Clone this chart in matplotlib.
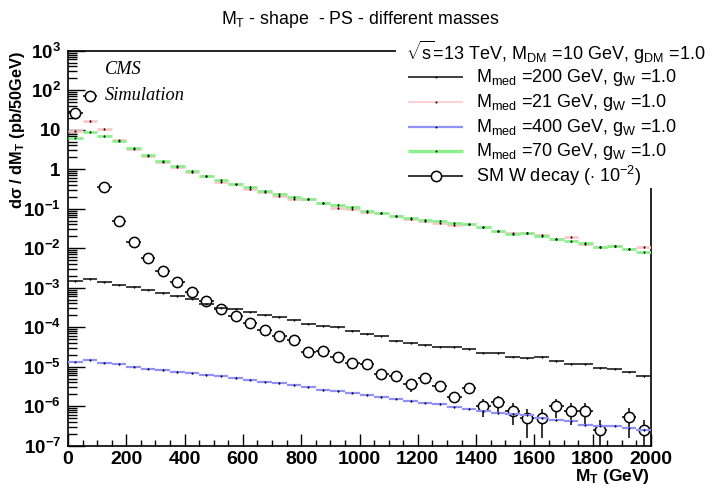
import numpy as np
import matplotlib
matplotlib.use("Agg")
import matplotlib.pyplot as plt
from matplotlib.patches import Rectangle
from matplotlib.ticker import FixedLocator, FixedFormatter, NullFormatter

plt.rcParams['font.family'] = ['Liberation Sans', 'DejaVu Sans']
plt.rcParams['mathtext.fontset'] = 'custom'
plt.rcParams['mathtext.rm'] = 'Liberation Sans'
plt.rcParams['mathtext.it'] = 'Liberation Sans:italic'
plt.rcParams['mathtext.bf'] = 'Liberation Sans:bold'

# ---- binning: 50 GeV bins from 0 to 2000 GeV ----
bin_width = 50
bin_edges = np.arange(0, 2000 + bin_width, bin_width)

# ---- dsigma/dMT (pb/50GeV) for each mediator mass ----
med200 = [1.45e-3, 1.66e-3, 1.39e-3, 1.19e-3, 1.02e-3, 8.9e-4, 7.2e-4, 6.05e-4, 5.2e-4, 3.9e-4,
          3.1e-4, 2.9e-4, 2.47e-4, 2.04e-4, 1.78e-4, 1.52e-4, 1.23e-4, 1.07e-4, 9.9e-5, 8.1e-5,
          6.8e-5, 5.9e-5, 4.5e-5, 3.9e-5, 3.5e-5, 3.2e-5, 3.1e-5, 2.8e-5, 2.26e-5, 2.18e-5,
          1.79e-5, 1.66e-5, 1.73e-5, 1.39e-5, 1.17e-5, 1.15e-5, 9.3e-6, 8.9e-6, 7.5e-6, 5.8e-6]
med21 = [9.5, 16.6, 10.5, 5.4, 3.3, 2.2, 1.55, 1.11, 0.83, 0.66,
         0.48, 0.41, 0.31, 0.26, 0.21, 0.176, 0.172, 0.14, 0.104, 0.098,
         0.081, 0.079, 0.0665, 0.055, 0.048, 0.043, 0.039, 0.040, 0.034, 0.0267,
         0.0238, 0.0243, 0.0216, 0.0171, 0.0196, 0.0125, 0.0107, 0.0114, 0.0097, 0.0107]
med400 = [1.34e-5, 1.48e-5, 1.26e-5, 1.15e-5, 1.0e-5, 8.9e-6, 8.2e-6, 7.3e-6, 6.8e-6, 6.2e-6,
          5.8e-6, 5.2e-6, 4.7e-6, 4.2e-6, 3.9e-6, 3.4e-6, 3.0e-6, 2.6e-6, 2.4e-6, 2.2e-6,
          1.92e-6, 1.71e-6, 1.55e-6, 1.36e-6, 1.23e-6, 1.14e-6, 9.4e-7, 8.6e-7, 7.7e-7, 6.7e-7,
          6.3e-7, 5.9e-7, 4.9e-7, 4.5e-7, 4.1e-7, 3.3e-7, 3.2e-7, 3.2e-7, 2.75e-7, 2.5e-7]
med70 = [6.3, 9.0, 6.9, 5.3, 3.37, 2.24, 1.58, 1.2, 0.92, 0.67,
         0.53, 0.41, 0.36, 0.28, 0.23, 0.194, 0.172, 0.142, 0.126, 0.108,
         0.0875, 0.079, 0.0665, 0.058, 0.052, 0.05, 0.043, 0.040, 0.034, 0.0278,
         0.0229, 0.0243, 0.0204, 0.0171, 0.0149, 0.0135, 0.0107, 0.0114, 0.0097, 0.0079]
signal_rel_err = {"200": 0.03, "21": 0.04, "400": 0.04, "70": 0.04}

# ---- SM W -> l nu background (pb/50GeV), drawn scaled by 10^-2 ----
sm_scale = 1e-2
sm_w = [2650, 7100, 36, 4.8, 1.41, 0.555, 0.269, 0.139, 0.079, 0.047,
        0.0294, 0.0189, 0.0126, 0.0087, 0.0059, 0.0048, 0.00231, 0.00254, 0.00179, 0.00126,
        0.00119, 0.00066, 0.00059, 0.000358, 0.000527, 0.00033, 0.000174, 0.000284, 0.000103, 0.000128,
        7.7e-5, 5.0e-5, 5.0e-5, 1.03e-4, 7.7e-5, 7.7e-5, 2.54e-5, 0.0, 5.2e-5, 2.54e-5]
sm_rel_err = [0.01, 0.01, 0.03, 0.05, 0.06, 0.08, 0.1, 0.1, 0.12, 0.12,
              0.14, 0.15, 0.15, 0.16, 0.18, 0.18, 0.2, 0.2, 0.22, 0.22,
              0.24, 0.3, 0.3, 0.35, 0.3, 0.3, 0.32, 0.28, 0.47, 0.43,
              0.57, 0.69, 0.69, 0.5, 0.57, 0.57, 0.8, 0.0, 0.69, 0.8]

x_ticks = [0, 200, 400, 600, 800, 1000, 1200, 1400, 1600, 1800, 2000]
y_decades = list(range(-7, 4))

W, H = 720, 494
fig = plt.figure(figsize=(W / 100, H / 100), dpi=100)
fig.patch.set_facecolor('white')


def fx(px):
    return px / W


def fy(py):
    return 1 - py / H


ax_l, ax_r, ax_t, ax_b = 68, 651, 50.7, 445.7
ax = fig.add_axes([fx(ax_l), fy(ax_b), fx(ax_r - ax_l), (ax_b - ax_t) / H])
ax.set_yscale('log')
ax.set_xlim(0, 2000)
ax.set_ylim(1e-7, 1e3)

centers = 0.5 * (bin_edges[:-1] + bin_edges[1:])
half = bin_width / 2

# SM W decay: open circles with error bars
sm_vals = np.array(sm_w) * sm_scale
sm_err = sm_vals * np.array(sm_rel_err)
ok = sm_vals > 0
ax.errorbar(centers[ok], sm_vals[ok], xerr=half, yerr=sm_err[ok], fmt='o', ms=7.4,
            mfc='white', mec='black', mew=1.1, ecolor='black', elinewidth=1.1,
            capsize=0, zorder=2)

# signal histograms: coloured bin-wide segments, black stat. error ticks
series = [
    (med200, "200", '#1e1e1e', 1.2),
    (med21, "21", '#ffc8c8', 2.0),
    (med400, "400", '#9090ff', 1.6),
    (med70, "70", '#8cf08c', 2.0),
]
for vals, key, color, lw in series:
    v = np.array(vals)
    ax.errorbar(centers, v, xerr=half, fmt='none', ecolor=color, elinewidth=lw,
                capsize=0, zorder=3)
    ax.errorbar(centers, v, yerr=v * signal_rel_err[key], fmt='none', ecolor='#202020',
                elinewidth=0.6, capsize=0, zorder=4)
    ax.plot(centers, v, ls='none', marker='s', ms=0.9, mfc='black', mec='black',
            mew=0.3, zorder=4)

# axes style
for side in ['left', 'bottom', 'right', 'top']:
    ax.spines[side].set_linewidth(1.2)
    ax.spines[side].set_color('black')

ax.xaxis.set_major_locator(FixedLocator(x_ticks))
ax.xaxis.set_minor_locator(FixedLocator(bin_edges))
ax.set_xticklabels([str(t) for t in x_ticks])
ax.tick_params(axis='x', which='major', direction='in', length=8.5, width=1.0,
               pad=4, labelsize=14, top=False)
ax.tick_params(axis='x', which='minor', direction='in', length=4.2, width=1.0, top=False)

ax.yaxis.set_major_locator(FixedLocator([10.0 ** d for d in y_decades]))
minor_y = [m * 10.0 ** d for d in y_decades[:-1] for m in range(2, 10)]
ax.yaxis.set_minor_locator(FixedLocator(minor_y))
ax.yaxis.set_minor_formatter(NullFormatter())


def ylab(d):
    if d == 0:
        return r'$\mathbf{1}$'
    if d == 1:
        return r'$\mathbf{10}$'
    return r'$\mathbf{10^{%d}}$' % d


ax.yaxis.set_major_formatter(FixedFormatter([ylab(d) for d in y_decades]))
ax.tick_params(axis='y', which='major', direction='in', length=12.5, width=1.0,
               pad=5, labelsize=13.5, right=False)
ax.tick_params(axis='y', which='minor', direction='in', length=6.3, width=1.0, right=False)
for lab in ax.get_xticklabels():
    lab.set_fontweight('bold')

# axis titles
fig.text(fx(650), fy(476), r'M$_{\mathbf{T}}$ (GeV)', ha='right', va='center',
         fontsize=12.5, fontweight='bold')
fig.text(fx(18), fy(51), r'd$\mathbf{\sigma}$ / dM$_{\mathbf{T}}$ (pb/50GeV)', rotation=90,
         ha='center', va='top', fontsize=11.8, fontweight='bold')

# title
fig.text(0.5, fy(20), r'M$_{\mathrm{T}}$ - shape  - PS - different masses', ha='center',
         va='center', fontsize=12.8)

# CMS label
fig.text(fx(105), fy(70), 'CMS', fontsize=13.2, style='italic', family='Liberation Serif',
         ha='left', va='center')
fig.text(fx(105), fy(95), 'Simulation', fontsize=13.2, style='italic',
         family='Liberation Serif', ha='left', va='center')

# legend panel drawn over the frame corner
ov = fig.add_axes([0, 0, 1, 1], zorder=10)
ov.set_xlim(0, W)
ov.set_ylim(H, 0)
ov.axis('off')
ov.add_patch(Rectangle((396, 40), 330, 148.5, facecolor='white', edgecolor='none'))

ov.text(406, 52, r'$\sqrt{\mathrm{s}}$=13 TeV, M$_{\mathrm{DM}}$ =10 GeV, g$_{\mathrm{DM}}$ =1.0',
        ha='left', va='center', fontsize=13)
legend_rows = [
    ('#1e1e1e', 1.2, None, r'M$_{\mathrm{med}}$ =200 GeV, g$_{\mathrm{W}}$ =1.0'),
    ('#ffc8c8', 1.2, None, r'M$_{\mathrm{med}}$ =21 GeV, g$_{\mathrm{W}}$ =1.0'),
    ('#9090ff', 1.6, None, r'M$_{\mathrm{med}}$ =400 GeV, g$_{\mathrm{W}}$ =1.0'),
    ('#8cf08c', 2.4, None, r'M$_{\mathrm{med}}$ =70 GeV, g$_{\mathrm{W}}$ =1.0'),
    ('black', 1.1, 'o', r'SM W decay ($\cdot$ 10$^{-2}$)'),
]
row_y = [77, 102, 127, 151, 176]
for (color, lw, mk, text), yy in zip(legend_rows, row_y):
    ov.plot([408, 463], [yy, yy], color=color, lw=lw, solid_capstyle='butt')
    if mk:
        ov.plot([435.5], [yy], marker='o', ms=7.4, mfc='white', mec='black', mew=1.1)
    else:
        ov.plot([435.5], [yy], marker='s', ms=0.9, mfc='black', mec='black', mew=0.3)
    ov.text(476, yy, text, ha='left', va='center', fontsize=13)

fig.savefig('out.png', dpi=100, facecolor='white')
